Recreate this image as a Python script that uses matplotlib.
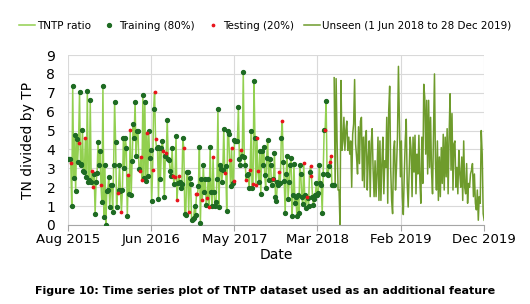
import matplotlib
matplotlib.use("Agg")
import matplotlib.pyplot as plt
import numpy as np
import pandas as pd
from matplotlib.lines import Line2D

# TNTP ratio, training/testing period (15 Aug 2015 - 31 May 2018)
tntp = [
    3.5, 3.5, 3.5, 3.3, 1.0, 7.35, 2.5, 4.75, 1.8, 4.55,
    3.35, 4.35, 7.05, 3.15, 3.25, 5.05, 2.85, 2.8, 4.6, 2.55,
    7.1, 2.25, 2.4, 6.6, 2.25, 2.85, 2.0, 2.7, 0.6, 2.3,
    2.75, 4.4, 3.15, 3.9, 2.1, 1.2, 7.35, 0.4, 3.2, 0.0,
    1.8, 1.85, 2.55, 0.95, 2.1, 2.1, 0.7, 3.2, 6.5, 4.4,
    0.95, 1.7, 1.85, 3.15, 1.8, 0.7, 1.85, 4.6,
    3.0, 4.6, 4.1, 0.45, 2.65, 1.65, 5.05, 1.6, 3.4, 5.35,
    4.6, 6.5, 3.65, 4.95, 4.95, 2.95, 2.85, 3.6, 2.4, 6.9,
    2.5, 6.5, 2.35, 4.85, 2.6, 4.95, 3.55, 3.95, 1.25, 2.9,
    6.15, 7.05, 4.55, 4.1, 4.15, 1.4, 4.1, 2.45, 4.05, 4.45,
    3.9, 1.5, 3.65, 3.8, 5.55, 3.5, 3.45, 2.85, 2.6, 4.1,
    2.6, 2.15, 2.55, 4.7, 1.3, 2.2, 2.6, 2.25, 1.95, 2.15,
    4.6, 4.05, 0.6, 0.55, 2.8, 2.8, 0.7,
    2.5, 2.15, 0.25, 0.3, 0.35, 1.0, 0.55, 1.65, 1.65, 2.05,
    4.15, 0.1, 2.45, 1.3, 3.2, 1.75, 2.45, 1.05, 1.45, 2.45,
    0.95, 4.15, 1.75, 1.0, 3.6, 1.75, 1.0, 1.2, 2.45, 6.15,
    0.95, 3.2, 2.95, 2.3, 2.9, 5.1, 2.75, 3.1, 0.75, 4.95,
    4.8, 3.45, 2.05, 4.1, 2.2, 2.35, 4.5, 4.45, 4.45, 4.45,
    6.25, 3.5, 3.2, 3.95, 3.65, 8.1, 3.6, 3.2, 2.4, 2.65,
    2.7, 1.95, 2.9, 4.95, 1.95, 2.15, 7.6, 4.6, 2.1, 4.6,
    2.85, 2.25, 3.9, 1.65,
    3.9, 3.15, 4.15, 2.65, 1.95, 3.55, 4.5, 2.4, 3.5, 3.2,
    2.1, 2.45, 2.45, 3.8, 1.5, 1.25, 2.25, 2.1, 2.8, 2.2,
    4.6, 5.5, 3.35, 2.35, 0.65, 2.7, 3.65, 1.4, 2.25, 3.15,
    3.55, 0.45, 1.6, 3.25, 1.15, 1.5, 0.45, 1.6, 0.65, 3.2,
    2.7, 1.5, 1.1, 3.3, 1.6, 0.9, 1.5, 1.45, 1.0, 2.8,
    3.1, 2.6, 1.5, 1.05, 1.4, 1.6, 2.2, 1.6, 1.7, 3.15,
    2.2, 2.1, 0.65, 2.7, 5.05, 5.05, 6.55, 2.7, 2.65, 3.1,
    3.35, 3.65, 2.1, 2.1, 2.1,
]

# 1 = testing (20%), 0 = training (80%), aligned with tntp
is_test = [
    0, 0, 0, 1, 0, 0, 0, 0, 0, 0,
    0, 1, 0, 0, 0, 0, 0, 0, 1, 0,
    0, 0, 0, 0, 0, 1, 1, 0, 0, 0,
    0, 0, 0, 0, 1, 0, 0, 0, 0, 0,
    0, 0, 0, 0, 0, 0, 0, 0, 0, 0,
    0, 1, 0, 0, 0, 1, 0, 0,
    0, 0, 0, 0, 1, 0, 1, 0, 0, 0,
    0, 0, 0, 0, 0, 0, 1, 1, 1, 0,
    0, 0, 0, 1, 0, 0, 0, 0, 0, 1,
    0, 1, 1, 0, 0, 0, 0, 0, 0, 0,
    1, 0, 0, 1, 0, 0, 0, 0, 0, 0,
    1, 0, 1, 0, 1, 0, 1, 0, 0, 0,
    0, 1, 0, 0, 0, 0, 1,
    0, 0, 0, 0, 0, 0, 0, 1, 1, 0,
    0, 0, 0, 1, 0, 0, 0, 0, 1, 0,
    1, 0, 0, 0, 1, 0, 0, 0, 0, 0,
    0, 0, 0, 0, 0, 0, 1, 0, 0, 0,
    0, 1, 0, 1, 0, 1, 0, 0, 0, 0,
    0, 0, 0, 1, 0, 0, 0, 0, 1, 0,
    0, 0, 1, 0, 0, 1, 0, 0, 1, 1,
    1, 0, 0, 0,
    0, 0, 0, 0, 0, 0, 0, 0, 0, 0,
    0, 1, 0, 0, 0, 0, 0, 0, 1, 0,
    0, 1, 0, 0, 0, 0, 0, 0, 0, 0,
    0, 0, 0, 0, 0, 0, 0, 0, 0, 0,
    0, 0, 0, 1, 0, 0, 1, 0, 0, 0,
    1, 1, 0, 0, 0, 0, 0, 0, 0, 0,
    0, 0, 0, 0, 0, 1, 0, 0, 0, 0,
    1, 1, 0, 0, 0,
]

# Unseen period (1 Jun 2018 - 28 Dec 2019)
unseen = [
    7.8, 2.0, 7.75, 4.45, 1.85, 1.85, 0.0, 7.65, 3.95, 4.45,
    5.7, 3.95, 5.0, 5.5, 3.95, 4.65, 3.75, 4.45, 2.0, 4.8,
    5.35, 7.7, 4.3, 3.6, 2.7, 5.2, 3.25, 5.5, 5.7, 2.35,
    4.65, 2.0, 4.65, 5.0, 1.85, 3.6, 4.45, 1.5, 4.3, 5.1,
    2.9, 1.5, 3.4, 1.5, 2.7, 4.65, 1.3, 4.45, 1.3, 3.25,
    4.65, 1.65, 3.4, 3.05, 5.7, 1.15, 6.05, 7.35, 3.05, 1.3,
    0.6, 3.95, 4.45, 1.85, 3.05, 4.65, 8.4, 5.35, 2.55, 4.45,
    1.5, 0.55, 2.7, 4.45, 5.6, 2.2, 0.95, 2.8, 4.65, 3.95,
    1.5, 4.65, 2.8, 4.75, 1.65, 3.75, 2.7, 4.75, 2.35, 1.15,
    4.65, 2.2, 7.45, 6.75, 3.75, 6.6, 2.7, 6.6, 3.05, 5.7,
    2.8, 1.65, 5.0, 8.0, 3.25, 1.85, 4.45, 1.3, 3.6, 1.5,
    4.1, 2.2, 4.8, 1.85, 4.65, 2.55, 5.1, 1.65, 4.65, 6.95,
    2.9, 5.9, 1.85, 4.3, 4.45, 2.0, 3.05, 1.65, 3.95, 2.7,
    2.0, 3.6, 1.3, 4.45, 2.0, 1.65, 3.25, 1.15, 2.2, 2.0,
    2.7, 2.9, 3.25, 1.5, 2.7, 1.15, 0.8, 1.85, 0.25, 1.5,
    1.15, 5.0, 3.75, 0.6, 0.25,
]

tick_labels = ["Aug 2015", "Jun 2016", "May 2017", "Mar 2018", "Feb 2019", "Dec 2019"]

LIGHT = "#92d050"
DARK = "#1e6b23"
RED = "#e8141c"
OLIVE = "#6e9b2c"

dates = pd.date_range("2015-08-15", "2018-05-31", periods=len(tntp))
unseen_dates = pd.date_range("2018-06-01", "2019-12-28", periods=len(unseen))
vals = np.array(tntp)
test = np.array(is_test, dtype=bool)

fig = plt.figure(figsize=(5.30, 3.04), dpi=100)
ax = fig.add_axes([0.128, 0.26, 0.785, 0.559])

ax.plot(dates, vals, color=LIGHT, linewidth=1.1, zorder=2)
ax.plot(dates[~test], vals[~test], "o", color=DARK, markersize=2.8, zorder=3)
ax.plot(dates[test], vals[test], "o", color=RED, markersize=1.7, zorder=4)
ax.plot(unseen_dates, unseen, color=OLIVE, linewidth=1.1, zorder=2)

# Excel-style date axis: major unit of 319 days
start = pd.Timestamp("2015-08-15")
ticks = [start + pd.Timedelta(days=319 * i) for i in range(6)]
ax.set_xlim(ticks[0], ticks[-1])
ax.set_xticks(ticks)
ax.set_xticklabels(tick_labels)
ax.set_ylim(0, 9)
ax.set_yticks(range(10))

ax.grid(True, color="#d9d9d9", linewidth=0.8)
ax.set_axisbelow(True)
for s in ["top", "right", "left"]:
    ax.spines[s].set_visible(False)
ax.spines["bottom"].set_color("#a6a6a6")
ax.tick_params(axis="x", length=4, color="#a6a6a6", labelsize=9.5, pad=2)
ax.tick_params(axis="y", length=0, labelsize=10, pad=9)

ax.set_xlabel("Date", fontsize=10, labelpad=1)
ax.set_ylabel("TN divided by TP", fontsize=10, labelpad=8)

handles = [
    Line2D([], [], color=LIGHT, linewidth=1.1),
    Line2D([], [], marker="o", linestyle="", color=DARK, markersize=2.8),
    Line2D([], [], marker="o", linestyle="", color=RED, markersize=1.7),
    Line2D([], [], color=OLIVE, linewidth=1.1),
]
labels = ["TNTP ratio", "Training (80%)", "Testing (20%)", "Unseen (1 Jun 2018 to 28 Dec 2019)"]
fig.legend(handles, labels, loc="center", bbox_to_anchor=(0.5, 0.914), ncol=4,
           frameon=False, fontsize=7.5, handlelength=1.5, handletextpad=0.2,
           columnspacing=1.0)

fig.text(0.5, 0.043, "Figure 10: Time series plot of TNTP dataset used as an additional feature",
         ha="center", va="center", fontsize=8, fontweight="bold")

fig.savefig("out.png", dpi=100)
